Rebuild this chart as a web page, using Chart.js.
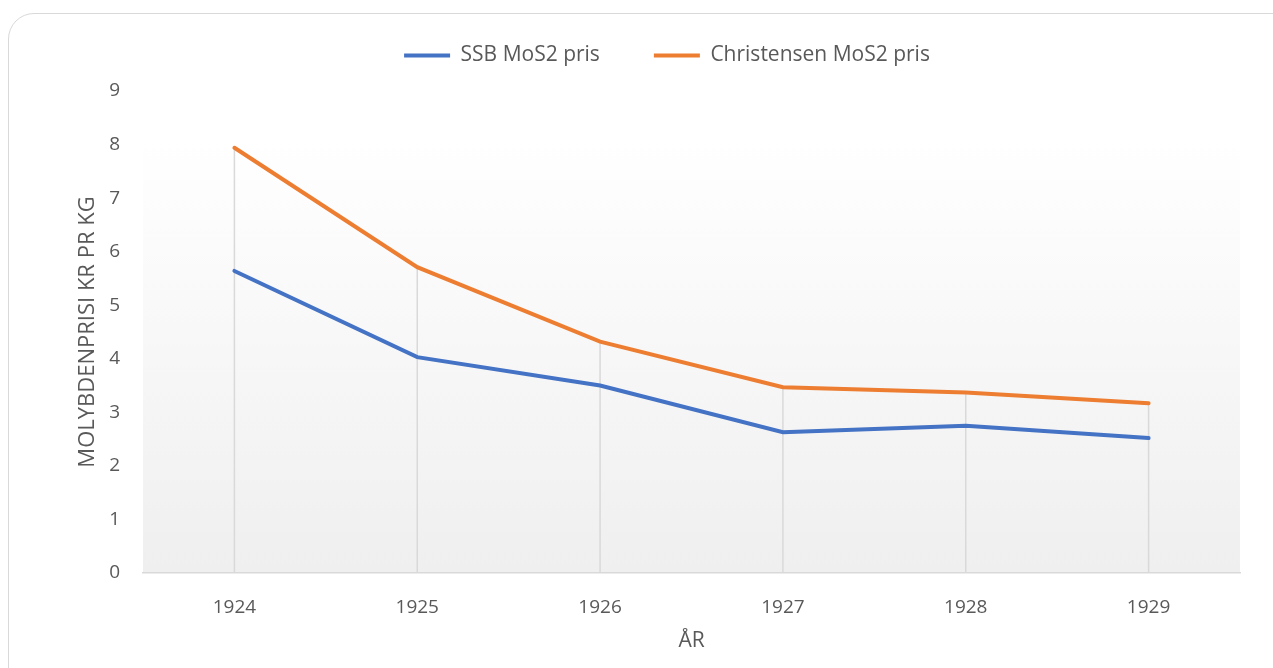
<!DOCTYPE html>
<html>
<head>
<meta charset="utf-8">
<script src="https://cdn.jsdelivr.net/npm/chart.js@4.4.1/dist/chart.umd.min.js"></script>
<style>
  html, body { margin: 0; padding: 0; background: #fff; }
  #wrap { position: relative; width: 1273px; height: 668px; overflow: hidden; }
  #frame {
    position: absolute; left: 8px; top: 13px; width: 1300px; height: 700px;
    border: 1.5px solid #d9d9d9; border-radius: 26px; box-sizing: border-box;
  }
  #box { position: absolute; left: 0; top: 0; width: 1273px; height: 668px; }
</style>
</head>
<body>
<div id="wrap">
  <div id="frame"></div>
  <div id="box"><canvas id="chart-pris"></canvas></div>
</div>
<script>
// aar og priser (kr pr kg)
const aar = ['1924', '1925', '1926', '1927', '1928', '1929'];
const ssbPris = [5.64, 4.03, 3.50, 2.63, 2.75, 2.52];
const christensenPris = [7.94, 5.71, 4.32, 3.47, 3.37, 3.17];
const yTicks = [0, 1, 2, 3, 4, 5, 6, 7, 8, 9];

const tekstFarge = '#595959';
const fontFam = "'Open Sans', 'Noto Sans', sans-serif";

// bakgrunn i plotteomraadet
const bakgrunn = {
	id: 'bakgrunn',
	beforeDraw(chart) {
		const {ctx, chartArea} = chart;
		const grad = ctx.createLinearGradient(0, chartArea.top, 0, chartArea.bottom);
		grad.addColorStop(0, '#ffffff');
		grad.addColorStop(0.1, '#ffffff');
		grad.addColorStop(1, '#efefef');
		ctx.save();
		ctx.fillStyle = grad;
		ctx.fillRect(chartArea.left, chartArea.top, chartArea.right - chartArea.left, chartArea.bottom - chartArea.top);
		ctx.restore();
	}
};

// loddlinjer fra hoyeste punkt ned til aksen
const loddlinjer = {
	id: 'loddlinjer',
	beforeDatasetsDraw(chart) {
		const {ctx, scales} = chart;
		ctx.save();
		ctx.strokeStyle = '#d9d9d9';
		ctx.lineWidth = 1.5;
		aar.forEach((a, i) => {
			const maks = Math.max(ssbPris[i], christensenPris[i]);
			const x = scales.x.getPixelForValue(i);
			ctx.beginPath();
			ctx.moveTo(x, scales.y.getPixelForValue(maks));
			ctx.lineTo(x, scales.y.getPixelForValue(0));
			ctx.stroke();
		});
		ctx.restore();
	}
};

// juster hoyden paa forklaringen og flytt den litt
const forklaring = {
	id: 'forklaring',
	afterInit(chart) {
		const legend = chart.legend;
		const fit = legend.fit;
		legend.fit = function() {
			fit.call(this);
			this.height -= 8;
		};
		const draw = legend.draw;
		legend.draw = function() {
			const c = this.ctx;
			c.save();
			c.translate(12, -23);
			draw.call(this);
			c.restore();
		};
	}
};

const dataPris = {
	labels: aar,
	datasets: [{
		label: 'SSB MoS2 pris',
		data: ssbPris,
		borderColor: '#4472C4',
		backgroundColor: '#4472C4',
		borderWidth: 4,
		borderCapStyle: 'round',
		pointRadius: 0,
		tension: 0
	}, {
		label: 'Christensen MoS2 pris',
		data: christensenPris,
		borderColor: '#ED7D31',
		backgroundColor: '#ED7D31',
		borderWidth: 4,
		borderCapStyle: 'round',
		pointRadius: 0,
		tension: 0
	}]
};

const configPris = {
	type: 'line',
	data: dataPris,
	options: {
		responsive: true,
		maintainAspectRatio: false,
		animation: false,
		layout: {
			padding: {left: 70, right: 33, top: 14, bottom: 10}
		},
		plugins: {
			tooltip: {enabled: false},
			legend: {
				display: true,
				position: 'top',
				labels: {
					color: tekstFarge,
					font: {family: fontFam, size: 21},
					boxWidth: 46,
					boxHeight: 4,
					padding: 54,
					generateLabels(chart) {
						return chart.data.datasets.map((ds, i) => ({
							text: ds.label,
							fillStyle: ds.borderColor,
							strokeStyle: ds.borderColor,
							lineWidth: 0,
							fontColor: tekstFarge,
							datasetIndex: i,
							hidden: false
						}));
					}
				}
			}
		},
		scales: {
			x: {
				offset: true,
				grid: {display: false},
				border: {display: true, color: '#d9d9d9', width: 1.5},
				ticks: {color: tekstFarge, font: {family: fontFam, size: 19}, padding: 15, maxRotation: 0},
				title: {
					display: true,
					text: 'ÅR',
					color: tekstFarge,
					font: {family: fontFam, size: 21},
					padding: {top: 4, bottom: 4}
				},
				afterFit(scale) { scale.height = 85; }
			},
			y: {
				min: 0,
				max: 9,
				afterBuildTicks(scale) { scale.ticks = yTicks.map(v => ({value: v})); },
				grid: {display: false, drawTicks: false},
				border: {display: false},
				ticks: {color: tekstFarge, font: {family: fontFam, size: 19}, padding: 23},
				title: {
					display: true,
					text: 'MOLYBDENPRISI KR PR KG',
					color: tekstFarge,
					font: {family: fontFam, size: 22},
					padding: {top: 5, bottom: 5}
				},
				afterFit(scale) { scale.width = 73; }
			}
		}
	},
	plugins: [bakgrunn, loddlinjer, forklaring]
};

const ctx = document.getElementById('chart-pris').getContext('2d');
window.chartPris = new Chart(ctx, configPris);
</script>
</body>
</html>
